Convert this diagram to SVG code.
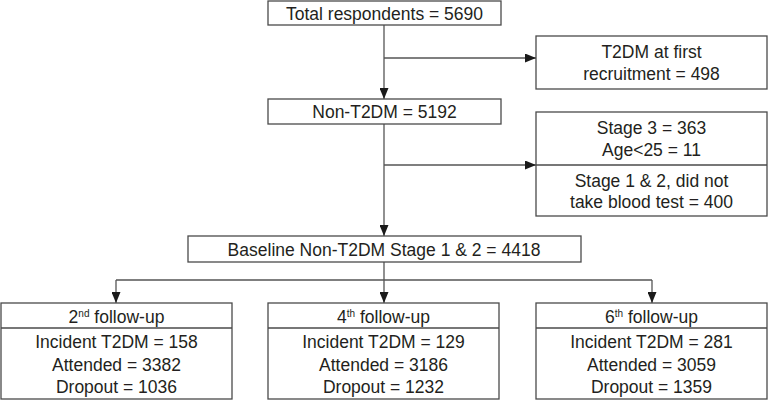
<svg xmlns="http://www.w3.org/2000/svg" width="768" height="400" viewBox="0 0 768 400">
<defs>
<marker id="ah" viewBox="0 0 11 9" refX="11" refY="4.5" markerWidth="11" markerHeight="9" markerUnits="userSpaceOnUse" orient="auto">
<path d="M0,0 L11,4.5 L0,9 Z" fill="#1a1a1a"/>
</marker>
<style>
.box{fill:#fff;stroke:#4a4a4a;stroke-width:1.3}
.div{stroke:#4a4a4a;stroke-width:1.3;fill:none}
.con{stroke:#555;stroke-width:1.3;fill:none}
.arr{marker-end:url(#ah)}
text{font-family:"Liberation Sans",Arial,sans-serif;font-size:17.5px;fill:#231f20;text-anchor:middle}
.sup{font-size:10px}
</style>
</defs>
<rect width="768" height="400" fill="#fff"/>
<g id="connectors">
<line class="con arr" x1="384" y1="25" x2="384" y2="99"/>
<line class="con arr" x1="384" y1="58" x2="536" y2="58"/>
<line class="con arr" x1="384" y1="124" x2="384" y2="236"/>
<line class="con arr" x1="384" y1="165" x2="536" y2="165"/>
<line class="con arr" x1="384" y1="262" x2="384" y2="303"/>
<line class="con" x1="116" y1="280" x2="652" y2="280"/>
<line class="con arr" x1="116" y1="280" x2="116" y2="303"/>
<line class="con arr" x1="652" y1="280" x2="652" y2="303"/>
</g>
<g id="total">
<rect class="box" x="268" y="1" width="233" height="24"/>
<text x="384.5" y="19.5">Total respondents = 5690</text>
</g>
<g id="t2dm-first">
<rect class="box" x="536" y="36" width="231" height="53"/>
<text x="651.5" y="58">T2DM at first</text>
<text x="651.5" y="80">recruitment = 498</text>
</g>
<g id="non-t2dm">
<rect class="box" x="268" y="99" width="233" height="25"/>
<text x="384.5" y="118">Non-T2DM = 5192</text>
</g>
<g id="excluded">
<rect class="box" x="536" y="112" width="231" height="104"/>
<line class="div" x1="536" y1="165" x2="767" y2="165"/>
<text x="651.5" y="134">Stage 3 = 363</text>
<text x="651.5" y="156">Age&lt;25 = 11</text>
<text x="651.5" y="187">Stage 1 &amp; 2, did not</text>
<text x="651.5" y="208">take blood test = 400</text>
</g>
<g id="baseline">
<rect class="box" x="188" y="236" width="393" height="26"/>
<text x="384" y="256">Baseline Non-T2DM Stage 1 &amp; 2 = 4418</text>
</g>
<g id="fu2">
<rect class="box" x="1" y="303" width="231" height="96"/>
<line class="div" x1="1" y1="328" x2="232" y2="328"/>
<text x="116.5" y="322.5">2<tspan class="sup" dy="-6">nd</tspan><tspan dy="6"> follow-up</tspan></text>
<text x="116.5" y="348">Incident T2DM = 158</text>
<text x="116.5" y="371">Attended = 3382</text>
<text x="116.5" y="393">Dropout = 1036</text>
</g>
<g id="fu4">
<rect class="box" x="268" y="303" width="231" height="96"/>
<line class="div" x1="268" y1="328" x2="499" y2="328"/>
<text x="383.5" y="322.5">4<tspan class="sup" dy="-6">th</tspan><tspan dy="6"> follow-up</tspan></text>
<text x="383.5" y="348">Incident T2DM = 129</text>
<text x="383.5" y="371">Attended = 3186</text>
<text x="383.5" y="393">Dropout = 1232</text>
</g>
<g id="fu6">
<rect class="box" x="536" y="303" width="231" height="96"/>
<line class="div" x1="536" y1="328" x2="767" y2="328"/>
<text x="651.5" y="322.5">6<tspan class="sup" dy="-6">th</tspan><tspan dy="6"> follow-up</tspan></text>
<text x="651.5" y="348">Incident T2DM = 281</text>
<text x="651.5" y="371">Attended = 3059</text>
<text x="651.5" y="393">Dropout = 1359</text>
</g>
</svg>
